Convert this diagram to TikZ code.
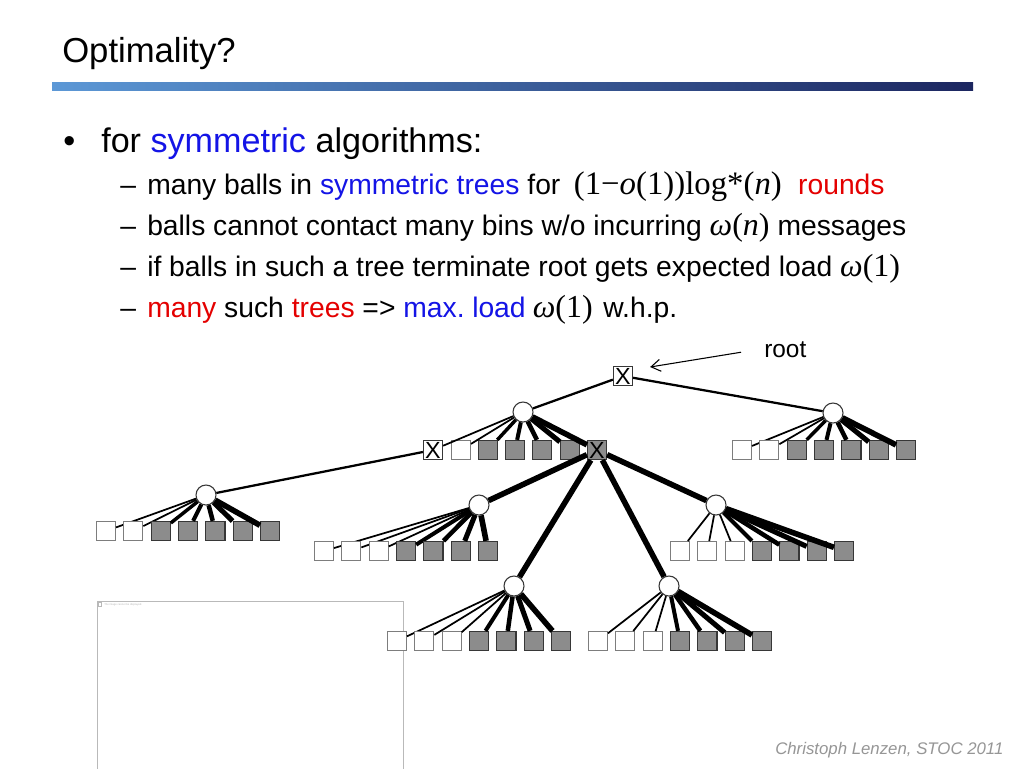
\documentclass[tikz,border=0pt]{standalone}
\usepackage{fontspec}
\setmainfont{Liberation Sans}
\newfontfamily\mserif{Liberation Serif}
\usepackage{xcolor}
\usetikzlibrary{arrows.meta}
\definecolor{kwblue}{RGB}{20,20,230}
\definecolor{kwred}{RGB}{228,0,0}
\definecolor{binfill}{RGB}{140,140,140}
\definecolor{binedge}{RGB}{55,55,55}
\definecolor{emptyedge}{RGB}{125,125,125}
\definecolor{barleft}{RGB}{92,152,214}
\definecolor{barright}{RGB}{28,38,96}
\definecolor{footgray}{RGB}{150,150,150}
\definecolor{boxgray}{RGB}{185,185,185}
\newcommand{\kwb}[1]{{\color{kwblue}#1}}
\newcommand{\kwr}[1]{{\color{kwred}#1}}
\newcommand{\mth}[1]{{\mserif\fontsize{24}{28}\selectfont #1}}

\begin{document}
\begin{tikzpicture}[
  x=0.75pt, y=-0.75pt,
  txt/.style ={anchor=base west, inner sep=0pt},
  lvlone/.style={txt, font=\fontsize{25.6}{30}\selectfont},
  lvltwo/.style={txt, font=\fontsize{21.2}{25}\selectfont},
  ball/.style={circle, draw=binedge, fill=white, line width=0.8pt,
               minimum size=15pt, inner sep=0pt},
  bin/.style ={rectangle, draw=binedge, line width=0.9pt, minimum size=14.3pt,
               inner sep=0pt, font=\fontsize{17.5}{17.5}\selectfont},
  wbin/.style={bin, draw=emptyedge, fill=white, line width=0.7pt},
  gbin/.style={bin, fill=binfill},
  xbin/.style={bin, fill=white},
  lnk/.style ={line width=1.7pt},
  fat/.style ={line width=4.2pt},
  arr/.style ={-{Straight Barb[length=7pt,width=9pt]}, line width=0.8pt}]

\fill[white] (0,0) rectangle (1024,768);
\useasboundingbox (0,0) rectangle (1024,768);

% header
\node[txt, font=\fontsize{26}{30}\selectfont] (title) at (62,62) {Optimality?};
\shade[left color=barleft, right color=barright] (52,82) rectangle (973,90);

% bullets
\node[lvlone] (dot) at (63,152) {\textbullet};
\node[lvlone] (l0) at (101,152) {for \kwb{symmetric} algorithms:};
\foreach \n/\y in {1/194,2/235,3/276,4/317}
  \node[lvltwo] (d\n) at (120,\y) {–};
\node[lvltwo] (l1) at (147,194) {many balls in \kwb{symmetric trees} for\hspace{0.2em}
  {\mserif\fontsize{24.6}{28}\selectfont (1−\textit{o}(1))log*(\textit{n})}\hspace{0.3em}
  \kwr{rounds}};
\node[lvltwo] (l2) at (147,235) {balls cannot contact many bins w/o incurring
  \mth{\textit{ω}(\textit{n})} messages};
\node[lvltwo] (l3) at (147,276) {if balls in such a tree terminate root gets expected load
  \mth{\textit{ω}(1)}};
\node[lvltwo] (l4) at (147,317) {\kwr{many} such \kwr{trees} => \kwb{max.\hspace{-0.1em} load}%
  \hspace{0.25em}\mth{\textit{ω}(1)}\hspace{0.1em} w.h.p.};

% missing picture frame
\draw[boxgray, line width=0.5pt] (97,601) rectangle (403,790);
\draw[boxgray, line width=0.4pt] (98.5,602.5) rectangle (101.5,606.5);
\node[txt, font=\fontsize{2}{2}\selectfont, text=boxgray] (imgnote) at (104,605)
  {The image cannot be displayed.};

% tree
\node[xbin] (R) at (623,376) {X};
\node[ball] (A) at (523,412) {};
\foreach \i/\x/\sty/\lbl in {1/433/xbin/X, 2/461/wbin/{}, 3/488/gbin/{},
    4/515/gbin/{}, 5/542/gbin/{}, 6/570/gbin/{}, 7/597/gbin/X}
  \node[\sty] (A\i) at (\x,450) {\lbl};
\foreach \i/\w in {1/1.3,2/1.3,3/2.6,4/3.0,5/3.4,6/3.8,7/4.2}
  \draw[line width=\w pt] (A) -- (A\i);
\foreach \g/\bx/\by/\ry/\nw/\xa in {B/833/413/450/2/742, C/206/495/531/2/106,
    D/479/505/551/3/324, E/716/505/551/3/680, F/514/586/641/3/397, G/669/586/641/3/598} {
  \node[ball] (\g) at (\bx,\by) {};
  \foreach \i in {1,...,7} {
    \pgfmathsetmacro\cx{\xa+27.35*(\i-1)}
    \pgfmathsetmacro\lw{\i>\nw ? 1.4+0.4*\i : 1.3}
    \ifnum\i>\nw
      \node[gbin] (\g\i) at (\cx,\ry) {};
    \else
      \node[wbin] (\g\i) at (\cx,\ry) {};
    \fi
    \draw[line width=\lw pt] (\g) -- (\g\i);
  }
}
\draw[lnk] (R) -- (A);
\draw[lnk] (R) -- (B);
\draw[lnk] (A1) -- (C);
\foreach \t in {D,E,F,G}
  \draw[fat] (A7) -- (\t);

\node[txt, font=\fontsize{18.3}{22}\selectfont] (rootlbl) at (764,357) {root};
\draw[arr] ([shift={(-23,3)}]rootlbl.west) -- ([shift={(17,-9)}]R.east);

% footer
\node[txt, font=\fontsize{12.6}{15}\selectfont\itshape, text=footgray] (foot)
  at (775,754) {Christoph Lenzen, STOC 2011};
\end{tikzpicture}
\end{document}
